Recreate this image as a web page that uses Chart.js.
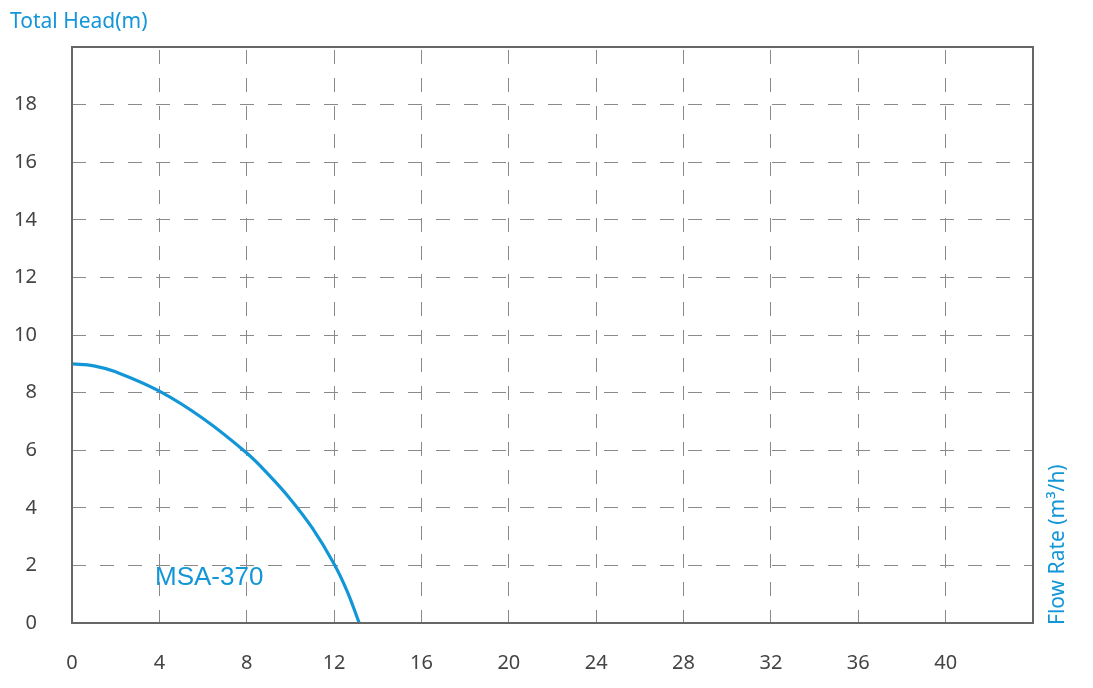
<!DOCTYPE html>
<html>
<head>
<meta charset="utf-8">
<script src="https://cdn.jsdelivr.net/npm/chart.js@4/dist/chart.umd.min.js"></script>
<style>
    html, body { margin: 0; padding: 0; background: #fff; }
    #wrap { width: 1093px; height: 688px; position: relative; }
</style>
</head>
<body>
<div id="wrap"><canvas id="chart"></canvas></div>
<script>
// pump curve MSA-370, flow rate (m3/h) vs total head (m)
const flowRate = [0, 1, 2, 4, 6, 8, 9, 10, 11, 12, 12.6, 13.15];
const totalHead = [9, 8.93, 8.72, 8.05, 7.1, 5.9, 5.15, 4.3, 3.3, 2.05, 1.1, 0];
const seriesName = 'MSA-370';
const yTitle = 'Total Head(m)';
const xTitle = 'Flow Rate (m³/h)';

const blue = '#1396d7';
const grey = '#8a8a8a';

const frame = {
    id: 'frame',
    afterDraw(chart) {
        const { ctx, chartArea: a, scales } = chart;
        ctx.save();
        ctx.strokeStyle = '#666';
        ctx.lineWidth = 2;
        ctx.strokeRect(a.left, a.top, a.right - a.left, a.bottom - a.top);

        ctx.fillStyle = blue;
        ctx.font = '21px "Noto Sans"';
        ctx.textBaseline = 'middle';
        ctx.textAlign = 'left';
        ctx.fillText(yTitle, 10, 22);

        ctx.font = '26px "Liberation Sans"';
        ctx.fillText(seriesName, scales.x.getPixelForValue(3.8), scales.y.getPixelForValue(1.56));

        ctx.translate(1058, a.bottom + 2);
        ctx.rotate(-Math.PI / 2);
        ctx.font = '21px "Noto Sans"';
        ctx.fillText(xTitle, 0, 0);
        ctx.restore();
    }
};

new Chart(document.getElementById('chart'), {
    type: 'line',
    data: {
        datasets: [{
            label: seriesName,
            data: flowRate.map((x, i) => ({ x, y: totalHead[i] })),
            borderColor: blue,
            borderWidth: 3.2,
            pointRadius: 0,
            tension: 0.4,
            fill: false
        }]
    },
    options: {
        responsive: true,
        maintainAspectRatio: false,
        animation: false,
        layout: { padding: { top: 46, right: 60 } },
        plugins: { legend: { display: false }, tooltip: { enabled: false } },
        scales: {
            x: {
                type: 'linear',
                min: 0,
                max: 44,
                afterFit: s => { s.height = 65; },
                border: { display: false, dash: [14, 14], dashOffset: -3 },
                grid: { color: grey, lineWidth: 1, drawTicks: false },
                ticks: {
                    stepSize: 4,
                    padding: 28,
                    color: '#444',
                    font: { family: 'Noto Sans', size: 20 },
                    maxRotation: 0,
                    callback: v => v === 44 ? '' : v
                }
            },
            y: {
                min: 0,
                max: 20,
                afterFit: s => { s.width = 72; },
                border: { display: false, dash: [14, 14] },
                grid: { color: grey, lineWidth: 1, drawTicks: false },
                ticks: {
                    stepSize: 2,
                    padding: 35,
                    color: '#444',
                    font: { family: 'Noto Sans', size: 20 },
                    callback: v => v === 20 ? '' : v
                }
            }
        }
    },
    plugins: [frame]
});
</script>
</body>
</html>
